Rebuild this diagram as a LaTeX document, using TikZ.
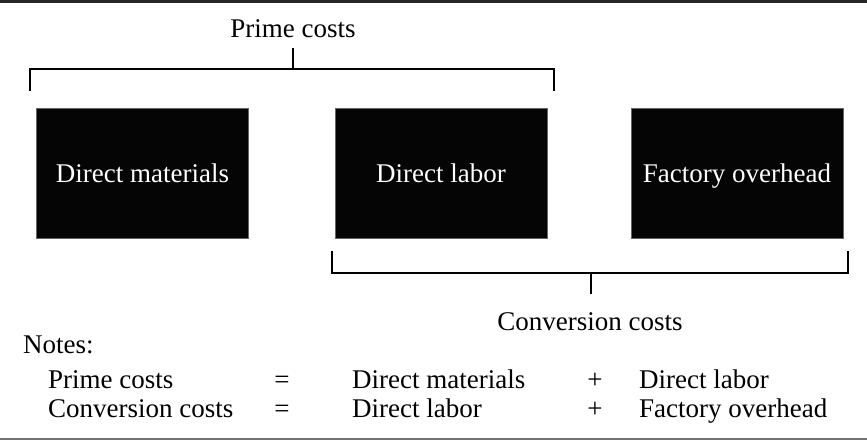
\documentclass[tikz,border=0pt]{standalone}
\usepackage{fontspec}
\setmainfont{Liberation Serif}
\begin{document}
\begin{tikzpicture}[x=1pt,y=-1pt,
  costbox/.style={fill=black!98, draw=black!60, line width=0.6pt, text=white, inner sep=0pt,
    minimum width=212pt, minimum height=130pt, text height=18pt, text depth=0pt,
    font=\fontsize{27}{31}\selectfont},
  lbl/.style={inner sep=0pt, font=\fontsize{27}{31}\selectfont},
  brace/.style={line width=2.8pt, line cap=butt, line join=miter}]
\useasboundingbox (0,0) rectangle (867,440);
% rules
\draw[line width=3pt, black!85] (0,1.5) -- (867,1.5);
\draw[line width=1.6pt, black!55] (0,438.7) -- (867,438.7);
% boxes
\node[costbox] (dm) at (142.5,173) {Direct materials};
\node[costbox] (dl) at (441,173) {Direct labor};
\node[costbox] (fo) at (737,173) {Factory overhead};
% prime bracket
\node[lbl, anchor=base] (pc) at (293,37) {Prime costs};
\coordinate (pa) at (30,91);
\coordinate (pb) at (554,91);
\coordinate (pm) at (293,69);
\coordinate (pt) at (293,48);
\draw[brace] (pa) -- (pa |- pm) -- (pb |- pm) -- (pb);
\draw[brace] (pt) -- (pm);
% conversion bracket
\node[lbl, anchor=base] (cc) at (590,330) {Conversion costs};
\coordinate (ca) at (332,251);
\coordinate (cb) at (848,251);
\coordinate (cm) at (591,273);
\coordinate (ct) at (591,294);
\draw[brace] (ca) -- (ca |- cm) -- (cb |- cm) -- (cb);
\draw[brace] (cm) -- (ct);
% notes
\node[lbl, anchor=base west] (notes) at (23,353) {Notes:};
\node[lbl, anchor=base west] (n1a) at (48,388) {Prime costs};
\node[lbl, anchor=base] (n1b) at (282,388) {=};
\node[lbl, anchor=base west] (n1c) at (352,388) {Direct materials};
\node[lbl, anchor=base] (n1d) at (595,388) {+};
\node[lbl, anchor=base west] (n1e) at (639,388) {Direct labor};
\node[lbl, anchor=base west] (n2a) at (48,417) {Conversion costs};
\node[lbl, anchor=base] (n2b) at (282,417) {=};
\node[lbl, anchor=base west] (n2c) at (352,417) {Direct labor};
\node[lbl, anchor=base] (n2d) at (595,417) {+};
\node[lbl, anchor=base west] (n2e) at (639,417) {Factory overhead};
\end{tikzpicture}
\end{document}
